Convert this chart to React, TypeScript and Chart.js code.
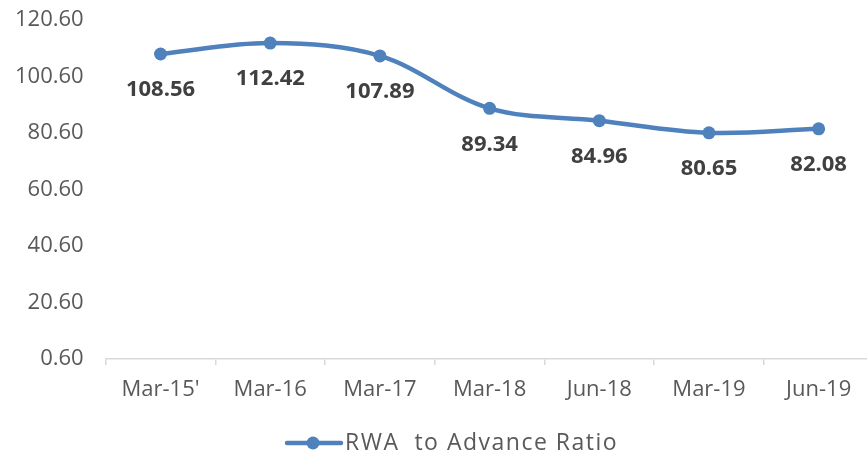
import React, { useEffect, useRef } from "react";
import { Chart, registerables } from "chart.js";

Chart.register(...registerables);

const categories: string[] = ["Mar-15'", "Mar-16", "Mar-17", "Mar-18", "Jun-18", "Mar-19", "Jun-19"];
const ratioValues: number[] = [108.56, 112.42, 107.89, 89.34, 84.96, 80.65, 82.08];
const yTickValues: number[] = [0.6, 20.6, 40.6, 60.6, 80.6, 100.6, 120.6];
const seriesName = "RWA  to Advance Ratio";

const LINE_COLOR = "#4f81bd";
const TEXT_COLOR = "#595959";
const LABEL_COLOR = "#404040";
const FONT = "'Open Sans', 'DejaVu Sans', sans-serif";

export default function App() {
  const ref = useRef<HTMLCanvasElement | null>(null);

  useEffect(() => {
    document.body.style.margin = "0";
    const canvas = ref.current;
    if (!canvas) return;

    const labelPlugin = {
      id: "valueLabels",
      afterDatasetsDraw(chart: any) {
        const ctx = chart.ctx;
        const meta = chart.getDatasetMeta(0);
        const data = chart.data.datasets[0].data as number[];
        ctx.save();
        ctx.font = `bold 22px ${FONT}`;
        ctx.fillStyle = LABEL_COLOR;
        ctx.textAlign = "center";
        ctx.textBaseline = "middle";
        meta.data.forEach((pt: any, i: number) => {
          ctx.fillText(data[i].toFixed(2), pt.x, pt.y + 36);
        });
        ctx.restore();
      },
    };

    const legendPlugin = {
      id: "customLegend",
      afterDraw(chart: any) {
        const ctx = chart.ctx;
        const y = 443;
        ctx.save();
        ctx.strokeStyle = LINE_COLOR;
        ctx.lineWidth = 4.5;
        ctx.lineCap = "round";
        ctx.beginPath();
        ctx.moveTo(287, y);
        ctx.lineTo(341, y);
        ctx.stroke();
        ctx.fillStyle = LINE_COLOR;
        ctx.beginPath();
        ctx.arc(313, y, 6.5, 0, Math.PI * 2);
        ctx.fill();
        ctx.font = `23px ${FONT}`;
        try {
          (ctx as any).letterSpacing = "1.5px";
        } catch (e) {}
        ctx.fillStyle = TEXT_COLOR;
        ctx.textAlign = "left";
        ctx.textBaseline = "middle";
        ctx.fillText(chart.data.datasets[0].label, 345, y);
        try {
          (ctx as any).letterSpacing = "0px";
        } catch (e) {}
        ctx.restore();
      },
    };

    const chart = new Chart(canvas, {
      type: "line",
      data: {
        labels: categories,
        datasets: [
          {
            label: seriesName,
            data: ratioValues,
            borderColor: LINE_COLOR,
            backgroundColor: LINE_COLOR,
            borderWidth: 4.5,
            pointRadius: 6.5,
            pointHoverRadius: 6.5,
            pointBackgroundColor: LINE_COLOR,
            pointBorderWidth: 0,
            tension: 0.35,
            fill: false,
          },
        ],
      },
      options: {
        responsive: false,
        maintainAspectRatio: false,
        animation: false,
        devicePixelRatio: 1,
        layout: { padding: { left: 0, right: 4, top: 20, bottom: 0 } },
        plugins: {
          legend: { display: false },
          tooltip: { enabled: false },
        },
        scales: {
          x: {
            offset: true,
            grid: {
              display: true,
              offset: true,
              drawOnChartArea: false,
              drawTicks: true,
              tickLength: 6,
              color: "#d9d9d9",
              lineWidth: 1.5,
            },
            border: { display: true, color: "#d9d9d9", width: 1.5 },
            ticks: {
              color: TEXT_COLOR,
              font: { family: FONT, size: 22 },
              padding: 12,
              maxRotation: 0,
              autoSkip: false,
            },
            afterFit(scale: any) {
              scale.height = 96;
              scale.paddingLeft = 0;
              scale.paddingRight = 0;
            },
          },
          y: {
            min: 0.6,
            max: 120.6,
            grid: { display: false },
            border: { display: false },
            ticks: {
              color: TEXT_COLOR,
              font: { family: FONT, size: 22 },
              padding: 14,
              callback: (v: any) => Number(v).toFixed(2),
            },
            afterBuildTicks(scale: any) {
              scale.ticks = yTickValues.map((v) => ({ value: v }));
            },
            afterFit(scale: any) {
              scale.width = 105.7;
              scale.paddingTop = 0;
              scale.paddingBottom = 0;
            },
          },
        },
      },
      plugins: [labelPlugin, legendPlugin],
    });

    return () => chart.destroy();
  }, []);

  return (
    <div style={{ width: 867, height: 455, overflow: "hidden", position: "relative", background: "#fff" }}>
      <canvas ref={ref} width={880} height={455} style={{ display: "block", width: 880, height: 455 }} />
    </div>
  );
}
